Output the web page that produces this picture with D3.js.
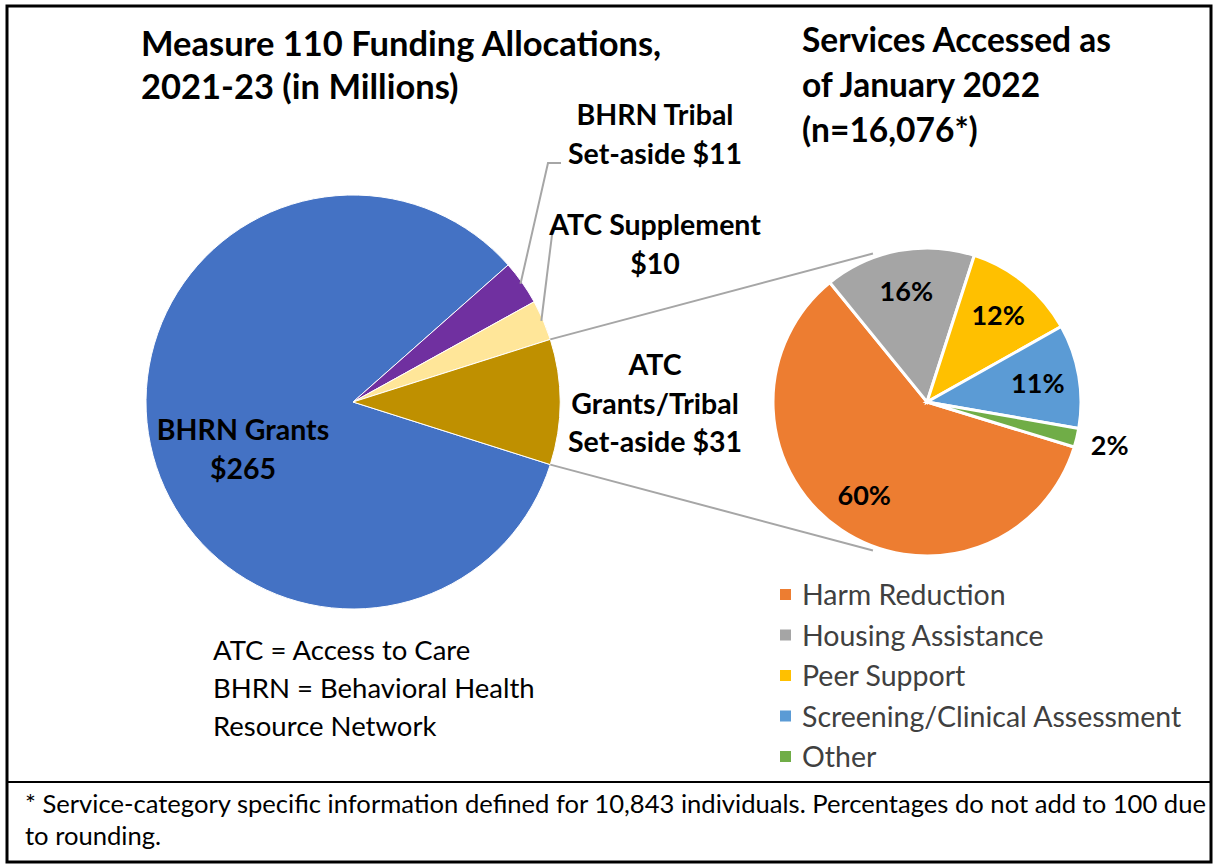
<!DOCTYPE html>
<html>
<head>
<meta charset="utf-8">
<script src="https://cdn.jsdelivr.net/npm/d3@7"></script>
<style>
  body { margin: 0; background: #fff; }
  text { font-family: Lato, "Open Sans", sans-serif; fill: #000; }
</style>
</head>
<body>
<svg id="chart"></svg>
<script>
        // Funding allocations (millions)
        var fundNames = ["BHRN Grants", "BHRN Tribal Set-aside", "ATC Supplement", "ATC Grants/Tribal Set-aside"];
        var fundValues = [265, 11, 10, 31];
        var fundColors = ["#4472C4", "#7030A0", "#FFE699", "#BF9000"];
        var fundLabels = [["BHRN Grants", "$265"], ["BHRN Tribal", "Set-aside $11"], ["ATC Supplement", "$10"], ["ATC", "Grants/Tribal", "Set-aside $31"]];

        // Services accessed (percent)
        var svcNames = ["Harm Reduction", "Housing Assistance", "Peer Support", "Screening/Clinical Assessment", "Other"];
        var svcValues = [60, 16, 12, 11, 2];
        var svcColors = ["#ED7D31", "#A5A5A5", "#FFC000", "#5B9BD5", "#70AD47"];

        var W = 1218, H = 866;
        var svg = d3.select("#chart").attr("width", W).attr("height", H);

        // frame
        svg.append("rect").attr("x", 7).attr("y", 6).attr("width", 1204).attr("height", 856)
            .attr("fill", "none").attr("stroke", "#000").attr("stroke-width", 3);
        svg.append("line").attr("x1", 7).attr("x2", 1211).attr("y1", 782).attr("y2", 782)
            .attr("stroke", "#000").attr("stroke-width", 2);

        // left pie
        var c1 = {x: 353, y: 402}, r1 = 207;
        var total1 = d3.sum(fundValues);
        var lastA = fundValues[fundValues.length - 1] / total1 * 2 * Math.PI;
        var pie1 = d3.pie().sort(null)
            .startAngle(Math.PI / 2 + lastA / 2 - 2 * Math.PI)
            .endAngle(Math.PI / 2 + lastA / 2);
        var arcs1 = pie1(fundValues);
        var arc1 = d3.arc().innerRadius(0).outerRadius(r1);

        var g1 = svg.append("g").attr("transform", "translate(" + c1.x + "," + c1.y + ")");
        g1.selectAll("path").data(arcs1).enter().append("path")
            .attr("d", arc1)
            .attr("fill", function(d, i) { return fundColors[i]; })
            .attr("stroke", "#fff").attr("stroke-width", 1);

        // right pie
        var c2 = {x: 927, y: 402}, r2 = 154;
        var start2 = 107 * Math.PI / 180;
        var pie2 = d3.pie().sort(null).startAngle(start2).endAngle(start2 + 2 * Math.PI);
        var arcs2 = pie2(svcValues);
        var arc2 = d3.arc().innerRadius(0).outerRadius(r2);

        function polar(c, r, a) {
            return [c.x + r * Math.sin(a), c.y - r * Math.cos(a)];
        }

        // connector lines between pies
        var gold = arcs1[arcs1.length - 1];
        var p1 = polar(c1, r1, gold.startAngle), p2 = polar(c2, r2 + 4, -20 * Math.PI / 180);
        var p3 = polar(c1, r1, gold.endAngle), p4 = polar(c2, r2 + 4, 200 * Math.PI / 180);
        [[p1, p2], [p3, p4]].forEach(function(s) {
            svg.append("line")
                .attr("x1", s[0][0]).attr("y1", s[0][1]).attr("x2", s[1][0]).attr("y2", s[1][1])
                .attr("stroke", "#A6A6A6").attr("stroke-width", 2);
        });

        var g2 = svg.append("g").attr("transform", "translate(" + c2.x + "," + c2.y + ")");
        g2.selectAll("path").data(arcs2).enter().append("path")
            .attr("d", arc2)
            .attr("fill", function(d, i) { return svcColors[i]; })
            .attr("stroke", "#fff").attr("stroke-width", 3);

        // percent labels
        var labelArc = d3.arc().innerRadius(r2 * 0.73).outerRadius(r2 * 0.73);
        var outArc = d3.arc().innerRadius(r2 * 1.22).outerRadius(r2 * 1.22);
        g2.selectAll("text.pct").data(arcs2).enter().append("text")
            .attr("class", "pct")
            .attr("transform", function(d) {
                var c = (d.endAngle - d.startAngle) < 0.2 ? outArc.centroid(d) : labelArc.centroid(d);
                return "translate(" + c[0] + "," + c[1] + ")";
            })
            .attr("text-anchor", "middle")
            .attr("dy", "0.36em")
            .attr("font-size", "27px")
            .attr("font-weight", "bold")
            .text(function(d) { return d.data + "%"; });

        // leader lines for the thin slices
        var leaderEnds = [null, [[548, 163], [561, 163]], [[552, 235]], null];
        arcs1.forEach(function(d, i) {
            if (!leaderEnds[i]) return;
            var m = (d.startAngle + d.endAngle) / 2;
            var pts = [polar(c1, r1 - 2, m)].concat(leaderEnds[i]);
            svg.append("path")
                .attr("d", d3.line()(pts))
                .attr("fill", "none").attr("stroke", "#A6A6A6").attr("stroke-width", 2);
        });

        // left pie labels
        var labelPos = [[243, 440], [655, 125], [655, 235], [655, 375]];
        fundLabels.forEach(function(lines, i) {
            var t = svg.append("text")
                .attr("x", labelPos[i][0]).attr("y", labelPos[i][1])
                .attr("text-anchor", "middle")
                .attr("font-size", "28.5px").attr("font-weight", "bold");
            lines.forEach(function(s, j) {
                t.append("tspan").attr("x", labelPos[i][0]).attr("dy", j === 0 ? 0 : 38.5).text(s);
            });
        });

        // titles
        function multiline(x, y, lines, size, weight, step) {
            var t = svg.append("text").attr("x", x).attr("y", y)
                .attr("font-size", size).attr("font-weight", weight);
            lines.forEach(function(s, j) {
                t.append("tspan").attr("x", x).attr("dy", j === 0 ? 0 : step).text(s);
            });
            return t;
        }
        multiline(141, 56, ["Measure 110 Funding Allocations,", "2021-23 (in Millions)"], "34.5px", "bold", 43);
        multiline(802, 52, ["Services Accessed as", "of January 2022", "(n=16,076*)"], "33.5px", "bold", 45);

        // abbreviations note
        multiline(213, 660, ["ATC = Access to Care", "BHRN = Behavioral Health", "Resource Network"], "27.5px", "normal", 38);

        // legend
        var legend = svg.append("g");
        svcNames.forEach(function(n, i) {
            var y = 595 + i * 40.5;
            legend.append("rect").attr("x", 780).attr("y", y - 6).attr("width", 11).attr("height", 11)
                .attr("fill", svcColors[i]);
            legend.append("text").attr("x", 802).attr("y", y).attr("dy", "0.36em")
                .attr("font-size", "28.5px").style("fill", "#404040").text(n);
        });

        // footnote
        multiline(25, 813, ["* Service-category specific information defined for 10,843 individuals. Percentages do not add to 100 due", "to rounding."], "25.6px", "normal", 32);
</script>
</body>
</html>
